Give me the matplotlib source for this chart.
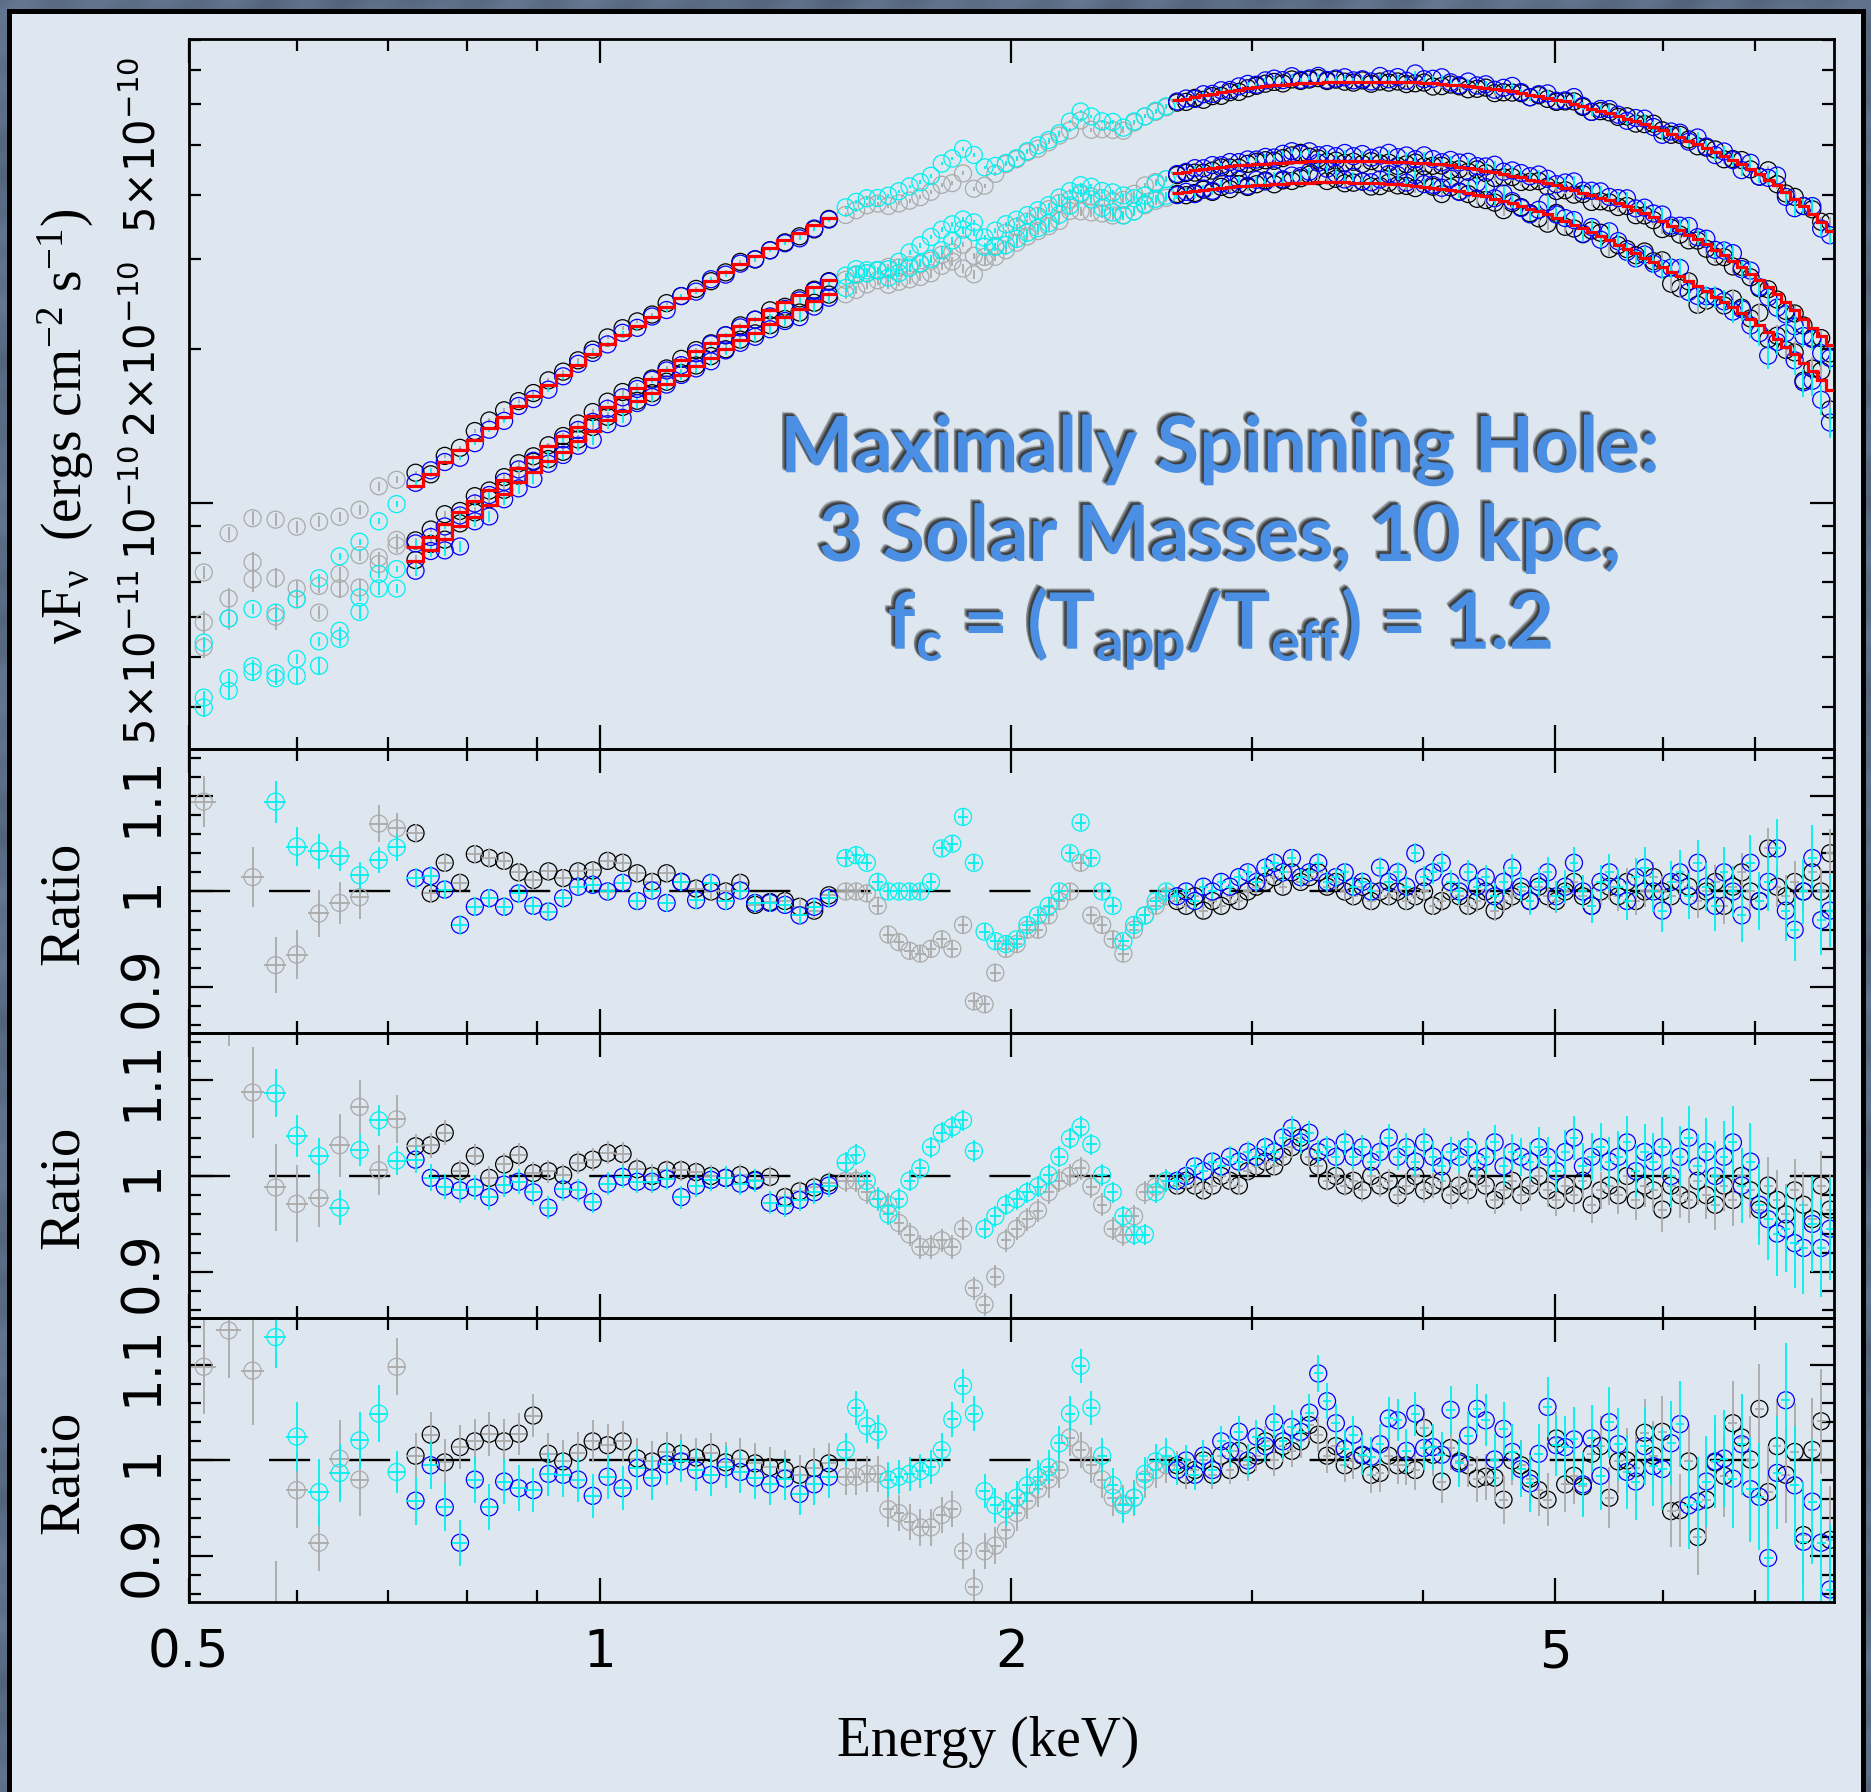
import numpy as np
import matplotlib
matplotlib.use("Agg")
import matplotlib.pyplot as plt
import matplotlib.patheffects as pe
from matplotlib.patches import Rectangle
from matplotlib.ticker import NullFormatter

nan = float("nan")

plt.rcParams["font.family"] = ["DejaVu Sans"]
plt.rcParams["mathtext.default"] = "regular"

# ---------------- energy bins (keV) ----------------
energy_soft1 = [0.513, 0.535, 0.557, 0.579, 0.600, 0.623, 0.645, 0.667, 0.689, 0.710]
energy_lo = [0.733, 0.752, 0.770, 0.790, 0.810, 0.830, 0.851, 0.872, 0.894, 0.917,
             0.940, 0.964, 0.988, 1.013, 1.039, 1.065, 1.092, 1.119, 1.147, 1.176,
             1.206, 1.236, 1.267, 1.299, 1.332, 1.366, 1.400, 1.435, 1.471]
energy_soft2 = [1.513, 1.540, 1.568, 1.597, 1.626, 1.655, 1.685, 1.716, 1.747, 1.779,
                1.811, 1.844, 1.878, 1.912, 1.947, 1.982, 2.018, 2.055, 2.092, 2.130,
                2.169, 2.208, 2.248, 2.289, 2.331, 2.373, 2.416, 2.460, 2.505, 2.551,
                2.597]
energy_hi = [2.645, 2.685, 2.725, 2.765, 2.807, 2.849, 2.891, 2.935, 2.979, 3.023,
             3.069, 3.115, 3.161, 3.209, 3.257, 3.305, 3.355, 3.405, 3.456, 3.508,
             3.560, 3.614, 3.668, 3.723, 3.778, 3.835, 3.892, 3.951, 4.010, 4.070,
             4.131, 4.193, 4.255, 4.319, 4.384, 4.449, 4.516, 4.584, 4.652, 4.722,
             4.793, 4.864, 4.937, 5.011, 5.086, 5.162, 5.240, 5.318, 5.398, 5.479,
             5.561, 5.644, 5.729, 5.814, 5.902, 5.990, 6.080, 6.171, 6.263, 6.357,
             6.452, 6.549, 6.647, 6.747, 6.848, 6.950, 7.055, 7.160, 7.268, 7.377,
             7.487, 7.599, 7.713, 7.829, 7.946]

# ------------- unfolded nuFnu below 0.72 keV (1e-10 erg cm^-2 s^-1) -------------
flux_soft1_gray_a = [0.732, 0.873, 0.934, 0.928, 0.899, 0.919, 0.940, 0.970, 1.078, 1.110]
flux_soft1_cyan_a = [0.534, 0.595, 0.621, 0.611, 0.649, 0.713, 0.787, 0.840, 0.921, 0.995]
flux_soft1_gray_b = [0.585, 0.651, 0.766, 0.714, 0.681, 0.689, 0.727, 0.791, 0.783, 0.847]
flux_soft1_cyan_b = [0.417, 0.455, 0.480, 0.465, 0.496, 0.537, 0.563, 0.654, 0.727, 0.743]
flux_soft1_gray_c = [0.523, 0.595, 0.710, 0.600, 0.649, 0.611, 0.681, 0.684, 0.760, 0.825]
flux_soft1_cyan_c = [0.399, 0.430, 0.468, 0.455, 0.460, 0.481, 0.543, 0.613, 0.681, 0.681]

# ------------- disk model nuFnu (1e-10 erg cm^-2 s^-1) -------------
model_lo_a = [1.08, 1.14, 1.20, 1.27, 1.33, 1.40, 1.47, 1.55, 1.62, 1.70,
              1.78, 1.86, 1.95, 2.04, 2.13, 2.22, 2.31, 2.41, 2.51, 2.61,
              2.71, 2.82, 2.93, 3.03, 3.15, 3.26, 3.37, 3.49, 3.60]
model_lo_b = [0.82, 0.86, 0.91, 0.96, 1.01, 1.06, 1.11, 1.17, 1.23, 1.29,
              1.35, 1.41, 1.48, 1.54, 1.61, 1.68, 1.75, 1.82, 1.90, 1.98,
              2.05, 2.13, 2.22, 2.29, 2.38, 2.47, 2.55, 2.64, 2.73]
model_lo_c = [0.77, 0.81, 0.85, 0.90, 0.94, 0.99, 1.04, 1.10, 1.15, 1.21,
              1.26, 1.32, 1.38, 1.45, 1.51, 1.58, 1.64, 1.71, 1.78, 1.85,
              1.92, 2.00, 2.08, 2.15, 2.24, 2.31, 2.39, 2.48, 2.56]
model_soft2_a = [3.65, 3.73, 3.82, 3.90, 3.98, 4.06, 4.15, 4.23, 4.31, 4.40,
                 4.48, 4.56, 4.64, 4.72, 4.80, 4.88, 4.96, 5.04, 5.12, 5.19,
                 5.27, 5.34, 5.42, 5.49, 5.56, 5.63, 5.70, 5.76, 5.83, 5.89, 5.95]
model_soft2_b = [2.74, 2.80, 2.86, 2.92, 2.98, 3.03, 3.10, 3.16, 3.21, 3.27,
                 3.33, 3.38, 3.44, 3.49, 3.55, 3.61, 3.66, 3.71, 3.77, 3.81,
                 3.87, 3.91, 3.97, 4.01, 4.06, 4.11, 4.16, 4.19, 4.24, 4.28, 4.31]
model_soft2_c = [2.60, 2.65, 2.71, 2.76, 2.81, 2.86, 2.92, 2.97, 3.02, 3.08,
                 3.12, 3.17, 3.22, 3.27, 3.32, 3.36, 3.41, 3.46, 3.50, 3.54,
                 3.59, 3.63, 3.67, 3.71, 3.75, 3.79, 3.82, 3.86, 3.89, 3.93, 3.96]
model_hi_a = [6.11, 6.16, 6.21, 6.25, 6.29, 6.33, 6.37, 6.41, 6.45, 6.49,
              6.52, 6.54, 6.56, 6.58, 6.60, 6.61, 6.62, 6.63, 6.64, 6.645,
              6.65, 6.65, 6.65, 6.65, 6.65, 6.65, 6.64, 6.63, 6.62, 6.60,
              6.58, 6.56, 6.54, 6.52, 6.50, 6.47, 6.44, 6.40, 6.36, 6.31,
              6.26, 6.22, 6.18, 6.13, 6.08, 6.02, 5.96, 5.89, 5.82, 5.76,
              5.70, 5.63, 5.56, 5.49, 5.42, 5.34, 5.26, 5.18, 5.10, 5.02,
              4.94, 4.85, 4.76, 4.67, 4.58, 4.48, 4.38, 4.27, 4.17, 4.04,
              3.92, 3.80, 3.67, 3.54, 3.40]
model_hi_b = [4.41, 4.43, 4.46, 4.48, 4.50, 4.52, 4.54, 4.56, 4.57, 4.59,
              4.60, 4.61, 4.62, 4.63, 4.64, 4.65, 4.66, 4.66, 4.66, 4.66,
              4.66, 4.66, 4.65, 4.65, 4.64, 4.64, 4.63, 4.62, 4.61, 4.60,
              4.58, 4.56, 4.53, 4.50, 4.48, 4.45, 4.42, 4.39, 4.35, 4.32,
              4.28, 4.25, 4.21, 4.17, 4.12, 4.08, 4.03, 3.99, 3.94, 3.90,
              3.86, 3.80, 3.74, 3.68, 3.62, 3.55, 3.48, 3.41, 3.34, 3.27,
              3.20, 3.12, 3.05, 2.97, 2.89, 2.80, 2.72, 2.64, 2.56, 2.47,
              2.38, 2.29, 2.20, 2.12, 2.03]
model_hi_c = [4.03, 4.05, 4.07, 4.09, 4.11, 4.12, 4.14, 4.15, 4.16, 4.17,
              4.18, 4.19, 4.20, 4.21, 4.22, 4.22, 4.23, 4.23, 4.23, 4.23,
              4.22, 4.22, 4.21, 4.21, 4.20, 4.19, 4.18, 4.16, 4.14, 4.12,
              4.10, 4.08, 4.06, 4.03, 4.00, 3.97, 3.93, 3.89, 3.85, 3.80,
              3.75, 3.71, 3.66, 3.60, 3.55, 3.49, 3.44, 3.38, 3.32, 3.26,
              3.19, 3.13, 3.07, 3.01, 2.95, 2.89, 2.83, 2.77, 2.71, 2.65,
              2.59, 2.53, 2.47, 2.41, 2.35, 2.29, 2.23, 2.16, 2.09, 2.02,
              1.95, 1.88, 1.81, 1.74, 1.66]

# ------------- data / model ratios: spectrum a (upper) -------------
ratio_a_gray_soft1 = [1.094, nan, 1.015, 0.923, 0.934, 0.977, 0.988, 0.994, 1.071, 1.066]
ratio_a_cyan_soft1 = [nan, nan, nan, 1.094, 1.047, 1.042, 1.037, 1.017, 1.033, 1.046]
ratio_a_black_lo = [1.061, 0.998, 1.030, 1.009, 1.039, 1.035, 1.032, 1.020, 1.012, 1.021,
                    1.014, 1.021, 1.022, 1.032, 1.030, 1.019, 1.010, 1.019, 1.010, 1.003,
                    1.000, 1.000, 1.009, 0.986, 0.989, 0.990, 0.984, 0.980, 0.996]
ratio_a_blue_lo = [1.014, 1.016, 1.002, 0.965, 0.984, 0.993, 0.984, 0.998, 0.985, 0.979,
                   0.993, 1.005, 1.007, 1.000, 1.009, 0.990, 1.001, 0.988, 1.010, 0.991,
                   1.009, 0.990, 1.001, 0.988, 0.988, 0.986, 0.975, 0.984, 0.993]
ratio_a_gray_soft2 = [1.000, 1.000, 0.998, 0.985, 0.955, 0.947, 0.938, 0.935, 0.940, 0.950,
                      0.940, 0.965, 0.885, 0.882, 0.915, 0.940, 0.945, 0.960, 0.960, 0.975,
                      0.990, 1.000, 1.030, 0.975, 0.965, 0.950, 0.935, 0.960, 0.975, 0.985,
                      0.995]
ratio_a_cyan_soft2 = [1.035, 1.038, 1.030, 1.010, 1.000, 1.000, 1.000, 1.000, 1.010, 1.045,
                      1.050, 1.078, 1.030, 0.958, 0.948, 0.945, 0.950, 0.965, 0.975, 0.985,
                      1.000, 1.040, 1.072, 1.035, 1.000, 0.985, 0.948, 0.965, 0.975, 0.990,
                      1.000]
ratio_a_black_hi = [0.990, 0.985, 0.995, 0.980, 0.990, 0.985, 0.995, 0.990, 1.000, 1.005,
                    1.010, 1.015, 1.005, 1.020, 1.010, 1.015, 1.020, 1.005, 1.010, 1.000,
                    0.995, 1.005, 0.990, 1.000, 0.995, 1.000, 0.990, 0.995, 1.000, 0.985,
                    0.990, 1.000, 0.995, 0.985, 0.990, 1.000, 0.980, 0.990, 0.995, 1.000,
                    0.990, 1.005, 0.995, 0.990, 1.000, 1.010, 0.995, 0.985, 1.000, 1.005,
                    0.995, 1.010, 0.990, 1.000, 1.015, 1.000, 0.995, 1.010, 1.005, 0.990,
                    1.000, 1.010, 0.985, 1.005, 1.020, 1.000, 0.990, 1.045, 1.005, 0.995,
                    1.010, 1.000, 1.020, 1.000, 1.040]
ratio_a_blue_hi = [0.995, 1.000, 0.990, 1.005, 1.000, 1.010, 1.005, 1.015, 1.020, 1.010,
                   1.025, 1.030, 1.020, 1.035, 1.015, 1.020, 1.030, 1.010, 1.015, 1.020,
                   1.005, 1.010, 1.000, 1.025, 1.010, 1.020, 1.005, 1.040, 1.015, 1.020,
                   1.030, 1.010, 1.000, 1.020, 1.005, 1.015, 0.995, 1.010, 1.025, 1.005,
                   0.990, 1.010, 1.020, 0.995, 1.005, 1.030, 1.000, 0.985, 1.010, 1.020,
                   1.005, 0.990, 1.015, 1.025, 1.000, 0.980, 1.010, 1.020, 0.995, 1.030,
                   1.005, 0.985, 1.020, 1.000, 0.975, 1.030, 0.990, 1.010, 1.045, 0.980,
                   0.960, 1.000, 1.035, 0.970, 0.980]

# ------------- data / model ratios: spectrum b (middle) -------------
ratio_b_gray_soft1 = [nan, 1.185, 1.087, 0.988, 0.971, 0.977, 1.032, 1.072, 1.006, 1.059]
ratio_b_cyan_soft1 = [nan, nan, nan, 1.086, 1.042, 1.021, 0.967, 1.027, 1.058, 1.016]
ratio_b_black_lo = [1.031, 1.032, 1.045, 1.005, 1.021, 0.998, 1.012, 1.022, 1.003, 1.005,
                    1.001, 1.014, 1.017, 1.024, 1.023, 1.007, 1.000, 1.006, 1.006, 1.004,
                    1.000, 0.998, 1.001, 0.996, 0.999, 0.978, 0.984, 0.988, 0.993]
ratio_b_blue_lo = [1.017, 0.998, 0.989, 0.985, 0.988, 0.978, 0.991, 0.994, 0.983, 0.967,
                   0.986, 0.985, 0.973, 0.992, 0.999, 0.994, 0.994, 0.997, 0.978, 0.990,
                   0.996, 0.998, 0.992, 0.995, 0.972, 0.969, 0.975, 0.983, 0.990]
ratio_b_gray_soft2 = [0.995, 0.995, 0.983, 0.976, 0.970, 0.951, 0.939, 0.926, 0.926, 0.933,
                      0.926, 0.945, 0.883, 0.866, 0.895, 0.933, 0.945, 0.955, 0.964, 0.983,
                      0.995, 1.000, 1.008, 0.989, 0.970, 0.945, 0.939, 0.958, 0.983, 0.989,
                      0.995]
ratio_b_cyan_soft2 = [1.014, 1.022, 0.995, 0.976, 0.960, 0.976, 0.995, 1.008, 1.030, 1.045,
                      1.051, 1.058, 1.026, 0.945, 0.958, 0.970, 0.976, 0.983, 0.989, 1.001,
                      1.020, 1.039, 1.051, 1.033, 1.001, 0.983, 0.958, 0.939, 0.939, 0.983,
                      0.995]
ratio_b_black_hi = [0.990, 0.995, 0.990, 0.985, 0.990, 1.000, 0.995, 0.990, 1.005, 1.010,
                    1.015, 1.010, 1.020, 1.030, 1.040, 1.020, 1.010, 0.995, 1.000, 0.990,
                    0.995, 0.985, 1.000, 0.990, 0.995, 0.980, 0.990, 1.000, 0.985, 0.990,
                    0.995, 0.980, 0.990, 0.985, 1.000, 0.990, 0.975, 0.985, 0.995, 0.980,
                    0.990, 1.000, 0.985, 0.975, 0.990, 0.980, 0.995, 0.970, 0.985, 0.990,
                    0.980, 1.000, 0.975, 0.990, 0.985, 0.965, 0.990, 0.980, 0.975, 0.995,
                    0.980, 0.970, 0.990, 0.975, 1.000, 0.985, 0.965, 0.990, 0.975, 0.960,
                    0.985, 0.970, 0.955, 0.990, 0.965]
ratio_b_blue_hi = [0.995, 1.000, 1.010, 1.005, 1.015, 1.010, 1.020, 1.015, 1.025, 1.020,
                   1.030, 1.025, 1.040, 1.050, 1.035, 1.045, 1.025, 1.030, 1.020, 1.035,
                   1.020, 1.030, 1.015, 1.025, 1.040, 1.020, 1.030, 1.015, 1.035, 1.020,
                   1.010, 1.025, 1.020, 1.030, 1.015, 1.020, 1.035, 1.010, 1.025, 1.020,
                   1.015, 1.030, 1.020, 1.005, 1.025, 1.040, 1.010, 1.020, 1.030, 1.015,
                   1.020, 1.035, 1.005, 1.025, 1.015, 1.030, 1.000, 1.020, 1.040, 1.010,
                   1.025, 1.000, 1.020, 1.035, 0.990, 1.015, 0.970, 0.955, 0.940, 0.945,
                   0.930, 0.925, 0.950, 0.925, 0.945]

# ------------- data / model ratios: spectrum c (lower) -------------
ratio_c_gray_soft1 = [1.098, 1.136, 1.094, 0.835, 0.969, 0.914, 1.002, 0.980, nan, 1.098]
ratio_c_cyan_soft1 = [nan, nan, nan, 1.129, 1.025, 0.967, 0.987, 1.021, 1.049, 0.988]
ratio_c_black_lo = [1.005, 1.027, 0.998, 1.014, 1.020, 1.028, 1.020, 1.028, 1.047, 1.007,
                    0.999, 1.008, 1.020, 1.016, 1.020, 1.002, 0.999, 1.009, 1.007, 1.003,
                    1.008, 0.998, 1.002, 0.997, 0.993, 0.990, 0.985, 0.992, 0.997]
ratio_c_blue_lo = [0.958, 0.995, 0.951, 0.914, 0.980, 0.951, 0.978, 0.971, 0.969, 0.986,
                   0.985, 0.980, 0.963, 0.983, 0.971, 0.992, 0.982, 0.996, 0.999, 0.990,
                   0.985, 0.993, 0.988, 0.982, 0.975, 0.981, 0.965, 0.975, 0.983]
ratio_c_gray_soft2 = [0.983, 0.983, 0.986, 0.986, 0.949, 0.945, 0.936, 0.930, 0.930, 0.943,
                      0.949, 0.905, 0.868, 0.905, 0.911, 0.927, 0.945, 0.958, 0.970, 0.980,
                      0.990, 1.024, 1.011, 0.995, 0.980, 0.961, 0.955, 0.961, 0.980, 0.990,
                      0.995]
ratio_c_cyan_soft2 = [1.011, 1.055, 1.036, 1.030, 0.980, 0.983, 0.986, 0.989, 0.993, 1.011,
                      1.043, 1.078, 1.049, 0.968, 0.953, 0.949, 0.961, 0.974, 0.983, 0.993,
                      1.018, 1.049, 1.099, 1.055, 1.005, 0.974, 0.953, 0.961, 0.986, 0.999,
                      1.005]
ratio_c_black_hi = [0.995, 0.985, 0.990, 1.000, 0.985, 1.005, 0.990, 1.010, 0.995, 1.005,
                    1.020, 1.000, 1.015, 1.010, 1.020, 1.037, 1.027, 1.005, 1.015, 0.995,
                    1.000, 1.005, 0.985, 0.987, 1.005, 0.995, 0.995, 0.990, 1.034, 1.006,
                    0.978, 1.013, 0.999, 0.995, 0.981, 0.983, 0.982, 0.959, 1.000, 0.995,
                    0.981, 0.969, 0.959, 1.023, 0.975, 0.984, 0.973, 1.007, 1.015, 0.961,
                    0.999, 1.000, 0.992, 1.029, 1.005, 1.030, 0.947, 0.948, 0.999, 0.920,
                    0.959, 0.998, 0.984, 1.039, 1.024, 1.001, 1.054, 0.967, 1.015, 0.985,
                    1.009, 0.922, 1.011, 1.041, 0.917]
ratio_c_blue_hi = [0.990, 1.000, 0.985, 1.005, 0.990, 1.020, 1.010, 1.030, 1.000, 1.025,
                   1.015, 1.040, 1.020, 1.035, 1.030, 1.050, 1.091, 1.062, 1.039, 1.012,
                   1.027, 1.006, 1.004, 1.017, 1.044, 1.042, 1.010, 1.049, 1.013, 1.014,
                   1.006, 1.053, 0.997, 1.026, 1.054, 1.042, 1.001, 1.033, 1.009, 0.991,
                   0.976, 1.007, 1.056, 1.016, 1.014, 1.022, 0.975, 1.023, 0.984, 1.040,
                   1.017, 0.988, 0.978, 1.015, 0.994, 0.991, 1.018, 1.038, 0.953, 0.957,
                   0.978, 0.999, 1.002, 0.981, 1.017, 0.970, 0.962, 0.898, 0.987, 1.063,
                   0.974, 0.915, 0.957, 0.914, 0.865]

# ------------- 1-sigma ratio errors (units of 0.001) -------------
err_a_gray_soft1 = [27, 30, 31, 29, 26, 25, 22, 23, 19, 16]
err_a_cyan_soft1 = [25, 24, 23, 22, 20, 18, 16, 14, 14, 14]
err_a_black_lo = [10, 10, 10, 10, 10, 10, 10, 10, 10, 9, 9, 9, 9, 9, 9,
                  9, 9, 9, 9, 9, 9, 9, 9, 9, 9, 9, 9, 9, 9]
err_a_blue_lo = [11, 11, 10, 10, 10, 10, 10, 10, 10, 10, 10, 9, 9, 9, 9,
                 9, 9, 9, 9, 9, 9, 9, 9, 9, 9, 9, 9, 9, 9]
err_a_gray_soft2 = [9, 9, 9, 9, 9, 9, 9, 9, 9, 9, 9, 9, 9, 9, 9, 9,
                    9, 9, 9, 9, 9, 9, 9, 9, 9, 9, 9, 9, 9, 9, 9]
err_a_cyan_soft2 = [8, 8, 8, 8, 8, 8, 8, 8, 8, 8, 8, 8, 8, 8, 8, 8,
                    8, 8, 8, 8, 8, 8, 8, 8, 8, 8, 8, 8, 8, 8, 8]
err_a_black_hi = [8, 8, 8, 8, 8, 8, 8, 8, 8, 8, 8, 8, 8, 8, 8, 8, 8, 8, 9, 9,
                  9, 9, 9, 9, 9, 9, 9, 10, 10, 10, 10, 10, 10, 10, 11, 11, 11, 11, 11, 12,
                  12, 12, 12, 13, 13, 13, 13, 14, 14, 14, 15, 15, 15, 16, 16, 16, 17, 17, 17, 18,
                  18, 18, 19, 19, 20, 20, 20, 21, 21, 22, 22, 23, 23, 24, 25]
err_a_blue_hi = [8, 8, 8, 8, 8, 8, 8, 9, 9, 9, 9, 9, 9, 9, 9, 9, 10, 10, 10, 10,
                 10, 10, 10, 11, 11, 11, 11, 11, 12, 12, 12, 12, 13, 13, 13, 13, 14, 14, 14, 15,
                 15, 15, 16, 16, 17, 17, 17, 18, 18, 19, 19, 20, 20, 21, 21, 22, 22, 23, 24, 24,
                 25, 26, 26, 27, 28, 29, 30, 30, 31, 32, 33, 34, 35, 36, 38]

err_b_gray_soft1 = [50, 50, 47, 45, 40, 30, 33, 28, 26, 25]
err_b_cyan_soft1 = [30, 28, 27, 25, 22, 19, 18, 17, 16, 15]
err_b_black_lo = [13, 13, 13, 12, 12, 12, 12, 12, 12, 12, 12, 12, 12, 12, 12,
                  12, 12, 11, 11, 11, 11, 11, 11, 11, 11, 11, 11, 11, 11]
err_b_blue_lo = [14, 14, 13, 13, 13, 13, 13, 13, 13, 12, 12, 12, 12, 12, 12,
                 12, 12, 12, 12, 12, 12, 12, 12, 12, 12, 12, 12, 12, 12]
err_b_gray_soft2 = [12, 12, 12, 12, 12, 12, 12, 12, 12, 12, 12, 12, 12, 12, 12, 12,
                    12, 12, 12, 12, 12, 12, 12, 12, 12, 12, 12, 12, 12, 12, 12]
err_b_cyan_soft2 = [11, 11, 11, 11, 11, 11, 11, 11, 11, 11, 11, 11, 11, 11, 11, 11,
                    11, 11, 11, 11, 11, 11, 11, 11, 11, 11, 11, 11, 11, 11, 11]
err_b_black_hi = [10, 10, 10, 10, 10, 10, 10, 10, 10, 10, 10, 10, 10, 11, 11, 11, 11, 11, 11, 11,
                  12, 12, 12, 12, 12, 12, 13, 13, 13, 13, 13, 14, 14, 14, 14, 15, 15, 15, 16, 16,
                  16, 17, 17, 17, 18, 18, 18, 19, 19, 20, 20, 21, 21, 22, 22, 23, 23, 24, 24, 25,
                  25, 26, 27, 27, 28, 29, 29, 30, 31, 32, 33, 34, 35, 36, 37]
err_b_blue_hi = [10, 10, 10, 10, 10, 10, 11, 11, 11, 11, 11, 11, 11, 12, 12, 12, 12, 12, 13, 13,
                 13, 13, 14, 14, 14, 14, 15, 15, 15, 16, 16, 16, 17, 17, 18, 18, 18, 19, 19, 20,
                 20, 21, 21, 22, 23, 23, 24, 25, 25, 26, 27, 27, 28, 29, 30, 31, 32, 32, 33, 34,
                 35, 36, 37, 38, 39, 40, 42, 43, 44, 45, 47, 48, 50, 51, 53]

err_c_gray_soft1 = [49, 50, 57, 60, 40, 30, 40, 38, 30, 30]
err_c_cyan_soft1 = [40, 38, 36, 32, 36, 35, 30, 30, 30, 22]
err_c_black_lo = [24, 24, 24, 23, 23, 23, 23, 22, 22, 22, 22, 22, 22, 22, 21,
                  21, 21, 21, 21, 21, 21, 21, 21, 21, 21, 21, 21, 21, 21]
err_c_blue_lo = [25, 25, 25, 24, 24, 24, 24, 24, 23, 23, 23, 23, 23, 23, 23,
                 23, 23, 22, 22, 22, 22, 22, 22, 22, 22, 22, 22, 22, 22]
err_c_gray_soft2 = [19, 19, 19, 19, 19, 19, 19, 19, 19, 19, 19, 19, 19, 19, 19, 19,
                    19, 19, 19, 19, 19, 19, 19, 19, 19, 19, 19, 19, 19, 19, 19]
err_c_cyan_soft2 = [18, 18, 18, 18, 18, 18, 18, 18, 18, 18, 18, 18, 18, 18, 18, 18,
                    18, 18, 18, 18, 18, 18, 18, 18, 18, 18, 18, 18, 18, 18, 18]
err_c_black_hi = [15, 15, 15, 15, 15, 15, 15, 16, 16, 16, 16, 16, 17, 17, 17, 17, 18, 18, 18, 18,
                  19, 19, 19, 20, 20, 20, 21, 21, 21, 22, 22, 23, 23, 23, 24, 24, 25, 25, 26, 26,
                  27, 27, 28, 28, 29, 30, 30, 31, 32, 32, 33, 34, 34, 35, 36, 37, 37, 38, 39, 40,
                  41, 42, 43, 44, 45, 46, 47, 48, 49, 50, 51, 52, 54, 55, 56]
err_c_blue_hi = [16, 16, 16, 16, 16, 16, 17, 17, 17, 17, 17, 18, 18, 18, 18, 19, 19, 19, 20, 20,
                 20, 21, 21, 21, 22, 22, 23, 23, 23, 24, 24, 25, 25, 26, 26, 27, 28, 28, 29, 29,
                 30, 31, 31, 32, 33, 34, 34, 35, 36, 37, 38, 39, 40, 41, 42, 43, 44, 45, 46, 47,
                 48, 49, 51, 52, 53, 55, 56, 57, 59, 60, 62, 63, 65, 67, 69]

# ---------------- colours ----------------
PANEL = "#dee7ef"
GRAY = "#aaaaaa"
CYAN = "#00f0f0"
BLUE = "#0000ff"
RED = "#ff0000"
LABEL_BLUE = "#4a8fe3"

# ---------------- bin geometry ----------------
segments = [energy_soft1, energy_lo, energy_soft2, energy_hi]
E = np.concatenate([np.asarray(s, float) for s in segments])
seg_id = np.concatenate([np.full(len(s), i) for i, s in enumerate(segments)])
mid = np.sqrt(E[:-1] * E[1:])
edge_lo = np.concatenate([[E[0] ** 2 / mid[0]], mid])
edge_hi = np.concatenate([mid, [E[-1] ** 2 / mid[-1]]])
fitted = (seg_id == 1) | (seg_id == 3)


def fit_len(values, n):
    v = np.asarray(values, float)
    if len(v) >= n:
        return v[:n]
    return np.concatenate([v, np.full(n - len(v), nan)])


def seg_edges(i):
    m = seg_id == i
    return np.append(edge_lo[m], edge_hi[m][-1])


# ---------------- figure ----------------
W, H = 1871, 1792
fig = plt.figure(figsize=(W / 100, H / 100), dpi=100)

# slate backdrop with a faint brushed grain
bg = fig.add_axes([0, 0, 1, 1], zorder=-20)
yy, xx = np.mgrid[0:224, 0:234]
grain = (0.5 * np.sin(xx * 0.71 + 2.0 * np.sin(yy * 0.23))
         + 0.3 * np.sin(yy * 1.37 + xx * 0.11)
         + 0.2 * np.sin((xx + yy) * 0.53))
base = np.array([92, 110, 134]) / 255.0
img = np.clip(base[None, None, :] * (1 + 0.10 * grain[..., None]), 0, 1)
bg.imshow(img, extent=[0, 1, 0, 1], aspect="auto", interpolation="bilinear")
bg.set_axis_off()
bg.add_patch(Rectangle((8.5 / W, -0.02), (1862.5 - 8.5) / W, 1 + 0.02 - 11 / H,
                       transform=bg.transAxes, facecolor=PANEL, edgecolor="black",
                       linewidth=3.6))

left, width = 188.5 / W, (1834 - 188.5) / W


def frac(y_top, y_bot):
    return [left, 1 - y_bot / H, width, (y_bot - y_top) / H]


ax_top = fig.add_axes(frac(39, 749))
ax_r = [fig.add_axes(frac(749, 1033)), fig.add_axes(frac(1033, 1318)),
        fig.add_axes(frac(1318, 1602))]

for ax in [ax_top] + ax_r:
    ax.set_facecolor("none")
    ax.set_xscale("log")
    ax.set_xlim(0.5, 8.0)
    ax.set_xticks([0.5, 1, 2, 5])
    ax.set_xticks([0.6, 0.7, 0.8, 0.9, 3, 4, 6, 7], minor=True)
    ax.xaxis.set_minor_formatter(NullFormatter())
    ax.tick_params(which="both", direction="in", top=True, right=True,
                   width=1.6, colors="black")
    ax.tick_params(which="major", length=17)
    ax.tick_params(which="minor", length=8.5)
    ax.tick_params(axis="x", labelbottom=False)
    for s in ax.spines.values():
        s.set_linewidth(2.0)

ax_r[2].tick_params(axis="x", labelbottom=True, pad=19)
ax_r[2].set_xticklabels(["0.5", "1", "2", "5"], fontsize=37)

# top panel: nuFnu in units of 1e-10
ax_top.set_yscale("log")
ax_top.set_ylim(0.331, 8.05)
ax_top.set_yticks([1.0], labels=["10$^{-10}$"], rotation=90, va="center", fontsize=30)
minor_y = [0.4, 0.5, 0.6, 0.7, 0.8, 0.9, 2, 3, 4, 5, 6, 7, 8]
minor_lab = ["", "5\u00d710$^{-11}$", "", "", "", "", "2\u00d710$^{-10}$", "", "",
             "5\u00d710$^{-10}$", "", "", ""]
ax_top.set_yticks(minor_y, labels=minor_lab, minor=True, rotation=90, va="center",
                  fontsize=30)
ax_top.tick_params(axis="y", which="both", pad=17.5)

for ax in ax_r:
    ax.set_ylim(0.852, 1.149)
    ax.set_yticks([0.9, 1.0, 1.1], labels=["0.9", "1", "1.1"], rotation=90,
                  va="center", fontsize=37)
    ax.set_yticks([0.86, 0.88, 0.92, 0.94, 0.96, 0.98, 1.02, 1.04, 1.06, 1.08,
                   1.12, 1.14], minor=True)
    ax.tick_params(axis="y", which="both", pad=15)
    ax.axhline(1.0, color="black", lw=1.7, dashes=(17.4, 16.5), zorder=1.5)


def draw_dataset(ax_t, ax_rat, flux_s1, models, ratios, errs, ring_soft, ring_fit,
                 bar, z):
    n = [len(s) for s in segments]
    r_parts = [fit_len(r, k) for r, k in zip(ratios, n)]
    ratio = np.concatenate(r_parts)
    err = np.concatenate([fit_len(e, k) for e, k in zip(errs, n)]) / 1000.0
    m_lo, m_s2, m_hi = [fit_len(m, k) for m, k in zip(models, n[1:])]
    flux = np.concatenate([fit_len(flux_s1, n[0]), m_lo * r_parts[1],
                           m_s2 * r_parts[2], m_hi * r_parts[3]])
    rings = np.where(fitted, ring_fit, ring_soft)

    ax_t.errorbar(E, flux, yerr=flux * err, fmt="none", ecolor=bar,
                  elinewidth=1.3, capsize=0, zorder=z + 0.1)
    ax_t.scatter(E, flux, s=150, facecolors="none", edgecolors=rings,
                 linewidths=0.9, zorder=z)

    ax_rat.scatter(E, ratio, s=150, facecolors="none", edgecolors=rings,
                   linewidths=0.9, zorder=z)
    ax_rat.errorbar(E, ratio, yerr=err, xerr=[E - edge_lo, edge_hi - E], fmt="none",
                    ecolor=bar, elinewidth=1.3, capsize=0, zorder=z + 0.1)


spectra = [
    (ax_r[0], (flux_soft1_gray_a, flux_soft1_cyan_a), (model_lo_a, model_soft2_a, model_hi_a),
     (ratio_a_gray_soft1, ratio_a_black_lo, ratio_a_gray_soft2, ratio_a_black_hi),
     (ratio_a_cyan_soft1, ratio_a_blue_lo, ratio_a_cyan_soft2, ratio_a_blue_hi),
     (err_a_gray_soft1, err_a_black_lo, err_a_gray_soft2, err_a_black_hi),
     (err_a_cyan_soft1, err_a_blue_lo, err_a_cyan_soft2, err_a_blue_hi)),
    (ax_r[1], (flux_soft1_gray_b, flux_soft1_cyan_b), (model_lo_b, model_soft2_b, model_hi_b),
     (ratio_b_gray_soft1, ratio_b_black_lo, ratio_b_gray_soft2, ratio_b_black_hi),
     (ratio_b_cyan_soft1, ratio_b_blue_lo, ratio_b_cyan_soft2, ratio_b_blue_hi),
     (err_b_gray_soft1, err_b_black_lo, err_b_gray_soft2, err_b_black_hi),
     (err_b_cyan_soft1, err_b_blue_lo, err_b_cyan_soft2, err_b_blue_hi)),
    (ax_r[2], (flux_soft1_gray_c, flux_soft1_cyan_c), (model_lo_c, model_soft2_c, model_hi_c),
     (ratio_c_gray_soft1, ratio_c_black_lo, ratio_c_gray_soft2, ratio_c_black_hi),
     (ratio_c_cyan_soft1, ratio_c_blue_lo, ratio_c_cyan_soft2, ratio_c_blue_hi),
     (err_c_gray_soft1, err_c_black_lo, err_c_gray_soft2, err_c_black_hi),
     (err_c_cyan_soft1, err_c_blue_lo, err_c_cyan_soft2, err_c_blue_hi)),
]

for ax_rat, fluxes, models, r1, r2, e1, e2 in spectra:
    draw_dataset(ax_top, ax_rat, fluxes[0], models, r1, e1, GRAY, "black", GRAY, 2.0)
    draw_dataset(ax_top, ax_rat, fluxes[1], models, r2, e2, CYAN, BLUE, CYAN, 2.4)
    # folded best-fit model over the fitted bands
    ax_top.stairs(fit_len(models[0], len(energy_lo)), seg_edges(1), baseline=None,
                  color=RED, lw=2.3, zorder=4)
    ax_top.stairs(fit_len(models[2], len(energy_hi)), seg_edges(3), baseline=None,
                  color=RED, lw=2.3, zorder=4)

# ---------------- axis titles ----------------
serif = ["Liberation Serif", "DejaVu Serif"]
fig.text(988 / W, 1 - 1742 / H, "Energy (keV)", fontsize=40, family=serif,
         ha="center", va="center")
fig.text(66 / W, 1 - 426 / H,
         "\u03bdF$_{\u03bd}$  (ergs cm$^{-2}$ s$^{-1}$)", fontsize=40, family=serif,
         rotation=90, ha="center", va="center")
for yc in (903, 1187, 1472):
    fig.text(64 / W, 1 - yc / H, "Ratio", fontsize=41, family=serif,
             rotation=90, ha="center", va="center")

# ---------------- annotation ----------------
shadow = [pe.SimplePatchShadow(offset=off, shadow_rgbFace="#1c1c1c", alpha=0.26)
          for off in [(-1, 1), (-2, 2), (-3, 3), (-2, 1), (-1, 2), (-3, 2)]]
shadow.append(pe.Normal())
note_lines = ["Maximally Spinning Hole:", "3 Solar Masses, 10 kpc,",
              "f$_{c}$ = (T$_{app}$/T$_{eff}$) = 1.2"]
for line, yc in zip(note_lines, (451, 539, 629)):
    fig.text(1220 / W, 1 - yc / H, line, fontsize=56, fontweight="bold",
             family=["Lato", "DejaVu Sans"], color=LABEL_BLUE, ha="center",
             va="center", path_effects=shadow, zorder=10)

fig.savefig("out.png", dpi=100)
